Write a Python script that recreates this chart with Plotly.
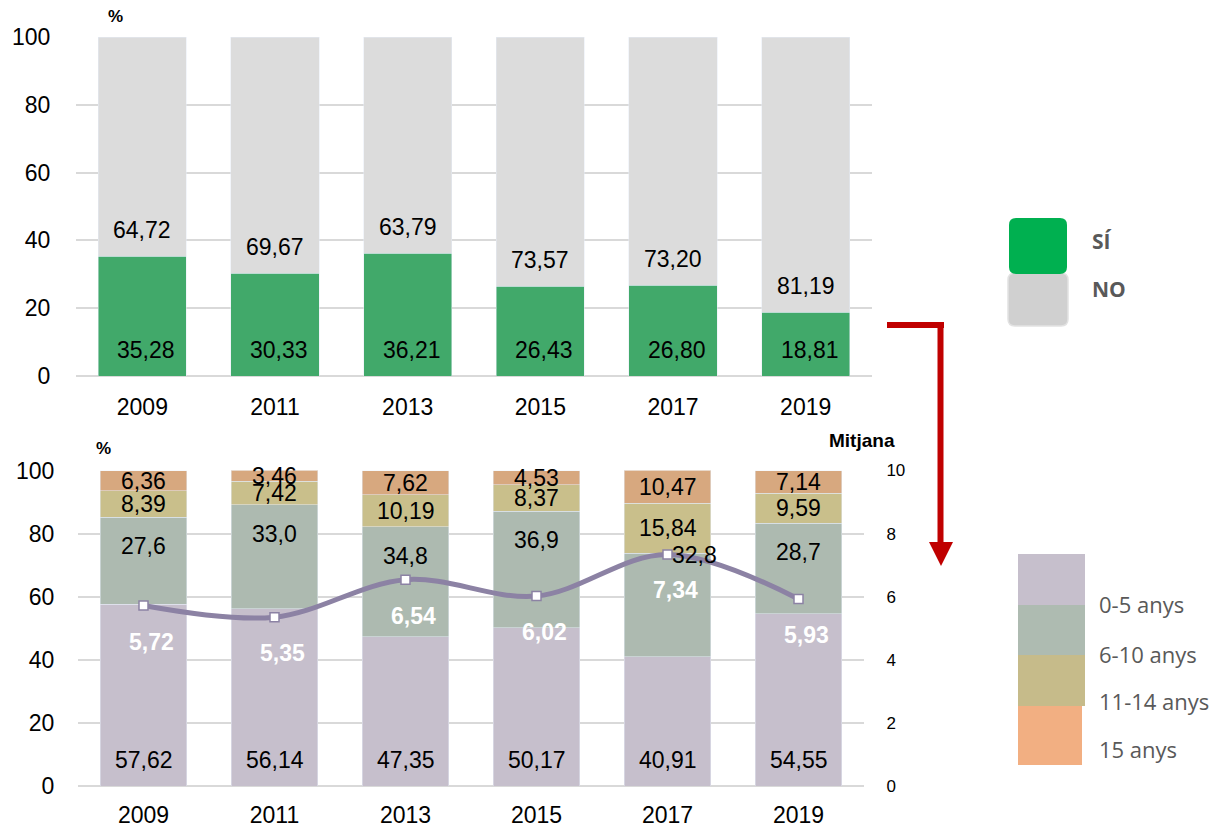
import plotly.graph_objects as go

# ---------------- data ----------------
years = ["2009", "2011", "2013", "2015", "2017", "2019"]
si = [35.28, 30.33, 36.21, 26.43, 26.80, 18.81]
no = [64.72, 69.67, 63.79, 73.57, 73.20, 81.19]

age_0_5 = [57.62, 56.14, 47.35, 50.17, 40.91, 54.55]
age_6_10 = [27.6, 33.0, 34.8, 36.9, 32.8, 28.7]
age_11_14 = [8.39, 7.42, 10.19, 8.37, 15.84, 9.59]
age_15 = [6.36, 3.46, 7.62, 4.53, 10.47, 7.14]
mitjana = [5.72, 5.35, 6.54, 6.02, 7.34, 5.93]

top_legend = ["SÍ", "NO"]
age_legend = ["0-5 anys", "6-10 anys", "11-14 anys", "15 anys"]

# ---------------- style ----------------
W, H = 1216, 829
FONT = "Liberation Sans, Arial, sans-serif"
LFONT = "Open Sans, Noto Sans, sans-serif"
GREEN = "#41a96a"
GREY = "#dcdcdc"
C05, C610, C1114, C15 = "#c6bfcc", "#adbab0", "#c9bf8b", "#d7a87f"
LINEC = "#8c82a4"
GRID = "#d9d9d9"
RED = "#c00000"

# manual nudges of individual 6-10 labels (as in the original)
lab610_yshift = [-29, -29, -29, -29, -2, -29]
lab610_xshift = [0, 0, 0, 0, 27, 0]


def px(x):
    return x / W


def py(y):
    return 1 - y / H


def fmt(v, d=2):
    return f"{v:.{d}f}".replace(".", ",")


fig = go.Figure()

# top chart
fig.add_trace(go.Bar(x=years, y=si, marker_color=GREEN, xaxis="x", yaxis="y",
                     showlegend=False, hoverinfo="skip"))
fig.add_trace(go.Bar(x=years, y=no, marker_color=GREY, xaxis="x", yaxis="y",
                     showlegend=False, hoverinfo="skip"))

# bottom chart
for vals, col in [(age_0_5, C05), (age_6_10, C610), (age_11_14, C1114), (age_15, C15)]:
    fig.add_trace(go.Bar(x=years, y=vals, marker_color=col, xaxis="x2", yaxis="y2",
                         showlegend=False, hoverinfo="skip"))

fig.add_trace(go.Scatter(
    x=years, y=mitjana, xaxis="x2", yaxis="y3", mode="lines+markers",
    line=dict(color=LINEC, width=5, shape="spline", smoothing=1),
    marker=dict(symbol="square", size=9, color="white", line=dict(color=LINEC, width=1.5)),
    showlegend=False, hoverinfo="skip"))

ann = []
lab_font = dict(family=FONT, size=23, color="black")
# top labels (x given as category index)
for i, y in enumerate(years):
    ann.append(dict(x=i, y=0, xref="x", yref="y", text=fmt(si[i]), showarrow=False,
                    yanchor="bottom", yshift=11, xshift=4, font=lab_font))
    ann.append(dict(x=i, y=si[i], xref="x", yref="y", text=fmt(no[i]), showarrow=False,
                    yanchor="bottom", yshift=11, font=lab_font))
# bottom labels
for i, y in enumerate(years):
    b1 = age_0_5[i]
    b2 = b1 + age_6_10[i]
    b3 = b2 + age_11_14[i]
    b4 = b3 + age_15[i]
    ann.append(dict(x=i, y=0, xref="x2", yref="y2", text=fmt(age_0_5[i]), showarrow=False,
                    yanchor="bottom", yshift=11, font=lab_font))
    ann.append(dict(x=i, y=b2, xref="x2", yref="y2", text=fmt(age_6_10[i], 1), showarrow=False,
                    yanchor="middle", yshift=lab610_yshift[i], xshift=lab610_xshift[i],
                    font=lab_font))
    ann.append(dict(x=i, y=(b2 + b3) / 2, xref="x2", yref="y2", text=fmt(age_11_14[i]),
                    showarrow=False, yanchor="middle", font=lab_font))
    ann.append(dict(x=i, y=(b3 + b4) / 2, xref="x2", yref="y2", text=fmt(age_15[i]),
                    showarrow=False, yanchor="middle", font=lab_font))
    ann.append(dict(x=i, y=mitjana[i], xref="x2", yref="y3", text="<b>" + fmt(mitjana[i]) + "</b>",
                    showarrow=False, yanchor="middle", yshift=-36, xshift=8,
                    font=dict(family=FONT, size=23, color="white")))

# axis titles
ann.append(dict(x=px(115), y=py(17), xref="paper", yref="paper", text="<b>%</b>", showarrow=False,
                xanchor="center", yanchor="middle",
                font=dict(family=FONT, size=17, color="black")))
ann.append(dict(x=px(103), y=py(449), xref="paper", yref="paper", text="<b>%</b>", showarrow=False,
                xanchor="center", yanchor="middle",
                font=dict(family=FONT, size=17, color="black")))
ann.append(dict(x=px(862), y=py(440), xref="paper", yref="paper", text="<b>Mitjana</b>",
                xanchor="center", yanchor="middle",
                showarrow=False, font=dict(family=FONT, size=19, color="black")))

shapes = []


def rrect(x0, y0, x1, y1, r, fill, line_col=None):
    X0, X1 = px(x0), px(x1)
    Y0, Y1 = py(y0), py(y1)
    rx, ry = r / W, r / H
    path = (f"M {X0+rx},{Y0} L {X1-rx},{Y0} Q {X1},{Y0} {X1},{Y0-ry} "
            f"L {X1},{Y1+ry} Q {X1},{Y1} {X1-rx},{Y1} L {X0+rx},{Y1} Q {X0},{Y1} {X0},{Y1+ry} "
            f"L {X0},{Y0-ry} Q {X0},{Y0} {X0+rx},{Y0} Z")
    return dict(type="path", xref="paper", yref="paper", path=path, fillcolor=fill,
                line=dict(color=line_col or fill, width=1.5 if line_col else 0))


# top legend
shapes.append(rrect(1008, 273, 1068, 326, 7, "#d0d0d0", "#e2e2e2"))
shapes.append(rrect(1009, 218, 1067, 274, 7, "#00b050"))
leg_font_b = dict(family=LFONT, size=21, color="#595959")
ann.append(dict(x=px(1090), y=py(241), xref="paper", yref="paper", xanchor="left",
                yanchor="middle", text="<b>" + top_legend[0] + "</b>", showarrow=False,
                font=leg_font_b))
ann.append(dict(x=px(1090), y=py(289), xref="paper", yref="paper", xanchor="left",
                yanchor="middle", text="<b>" + top_legend[1] + "</b>", showarrow=False,
                font=leg_font_b))

# bottom legend
rects = [(1018, 554, 1085, 605, "#c6bfcc"), (1018, 605, 1085, 655, "#aebbb1"),
         (1018, 655, 1085, 706, "#c6bb8a"), (1018, 706, 1082, 765, "#f2af82")]
for x0, y0, x1, y1, c in rects:
    shapes.append(dict(type="rect", xref="paper", yref="paper", x0=px(x0), x1=px(x1),
                       y0=py(y1), y1=py(y0), fillcolor=c, line=dict(width=0)))
leg_font = dict(family=LFONT, size=22, color="#595959")
for lab, yc in zip(age_legend, [604, 654, 701, 749]):
    ann.append(dict(x=px(1097), y=py(yc), xref="paper", yref="paper", xanchor="left",
                    yanchor="middle", text=lab, showarrow=False, font=leg_font))

# red arrow
shapes.append(dict(type="line", xref="paper", yref="paper", x0=px(887), x1=px(944),
                   y0=py(325), y1=py(325), line=dict(color=RED, width=6)))
shapes.append(dict(type="line", xref="paper", yref="paper", x0=px(940.5), x1=px(940.5),
                   y0=py(322), y1=py(544), line=dict(color=RED, width=6)))
shapes.append(dict(type="path", xref="paper", yref="paper",
                   path=f"M {px(929)},{py(542)} L {px(953)},{py(542)} L {px(941)},{py(566)} Z",
                   fillcolor=RED, line=dict(width=0)))

tick_font = dict(family=FONT, size=23, color="black")
fig.update_layout(
    width=W, height=H, margin=dict(l=0, r=0, t=0, b=0, autoexpand=False),
    paper_bgcolor="white", plot_bgcolor="white",
    barmode="stack", bargap=0.336,
    xaxis=dict(domain=[px(76), px(872)], anchor="y", type="category", range=[-0.5, 5.5],
               tickfont=tick_font, automargin=False,
               ticks="outside", ticklen=10, tickcolor="rgba(0,0,0,0)", showgrid=False),
    yaxis=dict(domain=[py(376), py(37)], anchor="x", range=[0, 100], dtick=20,
               tickfont=tick_font, ticks="outside", ticklen=20, tickcolor="rgba(0,0,0,0)",
               automargin=False,
               showgrid=True, gridcolor=GRID, gridwidth=2, zeroline=True,
               zerolinecolor=GRID, zerolinewidth=2),
    xaxis2=dict(domain=[px(78), px(864)], anchor="y2", type="category", range=[-0.5, 5.5],
                tickfont=tick_font, automargin=False,
                ticks="outside", ticklen=8, tickcolor="rgba(0,0,0,0)", showgrid=False),
    yaxis2=dict(domain=[py(786), py(470.5)], anchor="x2", range=[0, 100], dtick=20,
                tickfont=tick_font, ticks="outside", ticklen=18, tickcolor="rgba(0,0,0,0)",
                automargin=False,
                showgrid=True, gridcolor=GRID, gridwidth=2, zeroline=True,
                zerolinecolor=GRID, zerolinewidth=2),
    yaxis3=dict(overlaying="y2", side="right", anchor="x2", range=[0, 10], dtick=2,
                tickfont=dict(family=FONT, size=17, color="black"), ticks="outside",
                automargin=False,
                ticklen=18, tickcolor="rgba(0,0,0,0)", showgrid=False, zeroline=False),
    annotations=ann, shapes=shapes,
)

fig.write_html("out.html", config={"displayModeBar": False},
               post_script="document.body.style.margin='0px';document.body.style.overflow='hidden';")
